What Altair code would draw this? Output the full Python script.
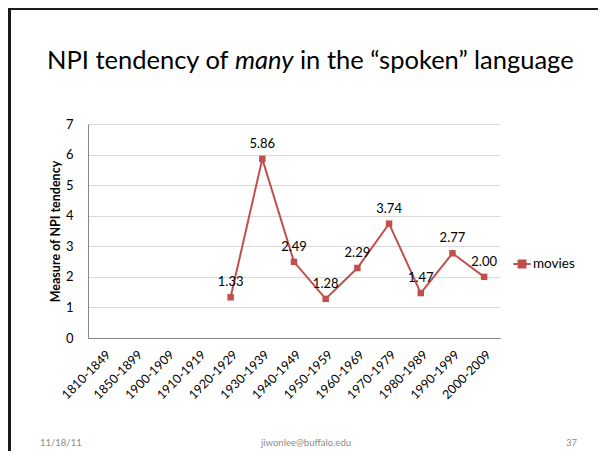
import altair as alt
import pandas as pd

categories = ["1810-1849", "1850-1899", "1900-1909", "1910-1919", "1920-1929",
              "1930-1939", "1940-1949", "1950-1959", "1960-1969", "1970-1979",
              "1980-1989", "1990-1999", "2000-2009"]
movies = [None, None, None, None, 1.33, 5.86, 2.49, 1.28, 2.29, 3.74, 1.47, 2.77, 2.00]
series_name = "movies"
title_parts = ["NPI tendency of", "many", "in the \u201cspoken\u201d language"]
footer_left = "11/18/11"
footer_mid = "jiwonlee@buffalo.edu"
footer_right = "37"
y_title = "Measure of NPI tendency"

RED = "#C0504D"
FONT = "Lato"
TFONT = "Lato"
TSIZE = 25.5
W, H = 412, 214

df = pd.DataFrame({"period": categories, "value": movies, "series": series_name})
df_pts = df.dropna()
df_pts = df_pts.assign(label=df_pts["value"].map(lambda v: f"{v:.2f}"))

xenc = alt.X("period:N", sort=categories, scale=alt.Scale(domain=categories, type="point", padding=0.5),
             axis=alt.Axis(title=None, labelAngle=-45, labelAlign="right", labelBaseline="top",
                           labelPadding=10, ticks=False, grid=False, labelFontSize=12.5,
                           labelColor="#000000", domainColor="#868686"))
yenc = alt.Y("value:Q", scale=alt.Scale(domain=[0, 7], nice=False),
             axis=alt.Axis(title=y_title, values=[0, 1, 2, 3, 4, 5, 6, 7], ticks=False,
                           labelPadding=15, labelFontSize=13, labelColor="#000000",
                           gridColor="#D9D9D9", domainColor="#868686",
                           titleFontSize=12.5, titleFontWeight="bold", titleColor="#000000",
                           titleX=-33, titleY=H / 2, titleAngle=-90, titleAlign="center",
                           titleBaseline="middle"))

base = alt.Chart(df_pts)
line = base.mark_line(strokeWidth=2).encode(
    x=xenc, y=yenc,
    color=alt.Color("series:N", scale=alt.Scale(domain=[series_name], range=[RED]),
                    legend=alt.Legend(title=None, orient="none", legendX=424, legendY=130,
                                      labelFontSize=13.5, labelFont=FONT, labelColor="#000000",
                                      symbolType="M-1,0L1,0M-0.4,-0.4L0.4,-0.4L0.4,0.4L-0.4,0.4Z",
                                      symbolSize=300, symbolStrokeWidth=2, symbolFillColor=RED,
                                      symbolStrokeColor=RED, labelOffset=1))
)
pts = base.mark_square(size=42, color=RED, opacity=1).encode(x=xenc, y=yenc)
labels = base.mark_text(fontSize=13, font=FONT, dy=-15, color="#000000").encode(
    x=xenc, y=yenc, text="label:N")

one = pd.DataFrame({"t": [0]})
t1 = alt.Chart(pd.DataFrame({"t": [title_parts[0]]})).mark_text(
    align="left", baseline="alphabetic", fontSize=TSIZE, font=TFONT, color="#000000").encode(
    x=alt.value(-41), y=alt.value(-55), text="t:N")
t2 = alt.Chart(pd.DataFrame({"t": [title_parts[1]]})).mark_text(
    align="left", baseline="alphabetic", fontSize=TSIZE, font=TFONT, fontStyle="italic", color="#000000").encode(
    x=alt.value(147), y=alt.value(-55), text="t:N")
t3 = alt.Chart(pd.DataFrame({"t": [title_parts[2]]})).mark_text(
    align="left", baseline="alphabetic", fontSize=TSIZE, font=TFONT, color="#000000").encode(
    x=alt.value(212), y=alt.value(-55), text="t:N")

f1 = alt.Chart(pd.DataFrame({"t": [footer_left]})).mark_text(
    align="left", baseline="alphabetic", fontSize=9.5, font=FONT, color="#8B8B8B").encode(
    x=alt.value(-48), y=alt.value(322), text="t:N")
f2 = alt.Chart(pd.DataFrame({"t": [footer_mid]})).mark_text(
    align="center", baseline="alphabetic", fontSize=9.5, font=FONT, color="#8B8B8B").encode(
    x=alt.value(218), y=alt.value(322), text="t:N")
f3 = alt.Chart(pd.DataFrame({"t": [footer_right]})).mark_text(
    align="right", baseline="alphabetic", fontSize=9.5, font=FONT, color="#8B8B8B").encode(
    x=alt.value(489), y=alt.value(322), text="t:N")

border_left = alt.Chart(one).mark_rule(color="#1A1A1A", strokeWidth=3).encode(
    x=alt.value(-78.5), y=alt.value(-117), y2=alt.value(335))
border_top = alt.Chart(one).mark_rule(color="#1A1A1A", strokeWidth=3).encode(
    x=alt.value(-80), x2=alt.value(510), y=alt.value(-115.5))

chart = alt.layer(line, pts, labels, t1, t2, t3, f1, f2, f3, border_left, border_top).properties(
    width=W, height=H,
    padding={"left": 80, "top": 116, "right": 101, "bottom": 113},
    autosize=alt.AutoSizeParams(type="none"),
    background="#FFFFFF",
).configure_view(stroke=None).configure_axis(labelFont=FONT, titleFont=FONT)

chart.save("out.html", embed_options={"renderer": "svg", "actions": False})
